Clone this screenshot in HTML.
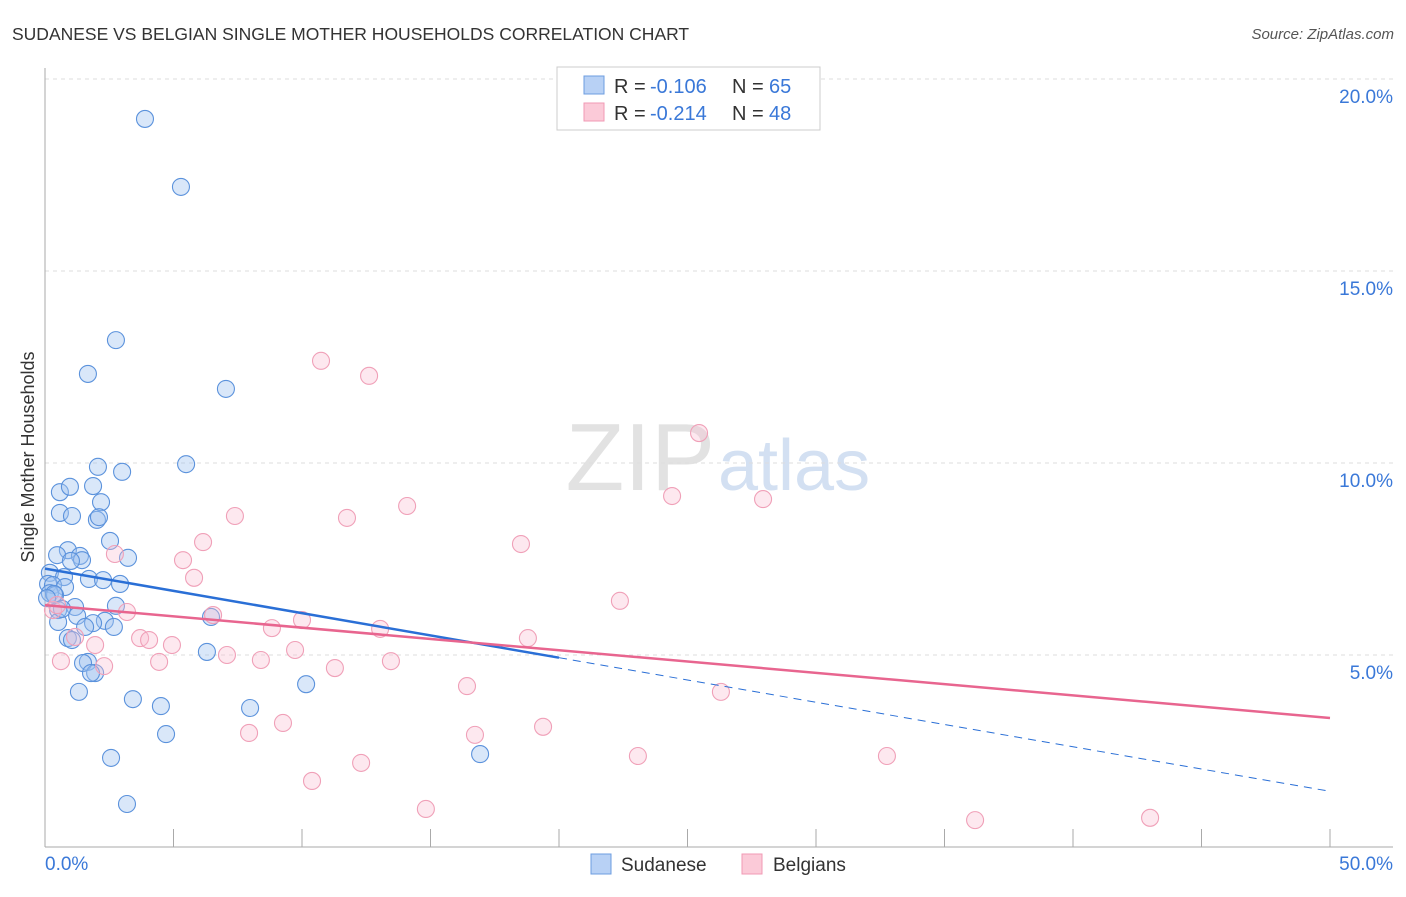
<!DOCTYPE html>
<html><head><meta charset="utf-8"><style>
body{margin:0;background:#fff;font-family:"Liberation Sans",sans-serif}
svg text{font-family:"Liberation Sans",sans-serif}
</style></head><body>
<svg id="c" width="1406" height="892">
<text x="12" y="40" font-size="17.5" fill="#333">SUDANESE VS BELGIAN SINGLE MOTHER HOUSEHOLDS CORRELATION CHART</text>
<text x="1394" y="39" font-size="15" fill="#555" font-style="italic" text-anchor="end">Source: ZipAtlas.com</text>
<text x="715" y="490" font-size="96" fill="#e2e2e2" text-anchor="end" font-family="Liberation Serif">ZIP</text>
<text x="718" y="490" font-size="72" fill="#d3e0f2">atlas</text>
<text transform="translate(34,457) rotate(-90)" font-size="18" fill="#333" text-anchor="middle">Single Mother Households</text>
<g id="grid"></g><g id="pts"></g><g id="lines"></g>
<g>
<rect x="557" y="67" width="263" height="63" fill="#fff" stroke="#ccc"/>
<rect x="584" y="76" width="20" height="18" fill="#b8d1f5" stroke="#6d9de0"/>
<rect x="584" y="103" width="20" height="18" fill="#fbcad8" stroke="#f09ab4"/>
<text x="614" y="93" font-size="20" fill="#333">R =</text>
<text x="650" y="93" font-size="20" fill="#3a78d8">-0.106</text>
<text x="732" y="93" font-size="20" fill="#333">N =</text>
<text x="769" y="93" font-size="20" fill="#3a78d8">65</text>
<text x="614" y="120" font-size="20" fill="#333">R =</text>
<text x="650" y="120" font-size="20" fill="#3a78d8">-0.214</text>
<text x="732" y="120" font-size="20" fill="#333">N =</text>
<text x="769" y="120" font-size="20" fill="#3a78d8">48</text>
</g>
<g>
<rect x="591" y="854" width="20" height="20" fill="#b8d1f5" stroke="#6d9de0"/>
<text x="621" y="871" font-size="19" fill="#333">Sudanese</text>
<rect x="742" y="854" width="20" height="20" fill="#fbcad8" stroke="#f09ab4"/>
<text x="773" y="871" font-size="19" fill="#333">Belgians</text>
</g>
</svg>
<script>
const yTicks=[5,10,15,20];
const xTickLabels=["0.0%","50.0%"];
const sudX=[3.89,5.29,2.76,1.67,7.04,5.49,2.06,3.00,0.58,0.97,1.87,2.18,0.58,1.05,2.02,2.10,2.53,0.89,0.47,1.36,1.44,1.01,3.23,0.19,0.74,1.71,2.26,2.92,0.12,0.31,0.78,0.19,0.39,2.76,1.17,0.51,6.46,1.25,0.51,2.33,1.87,1.56,2.68,0.89,1.05,6.30,1.67,1.48,1.95,1.79,10.16,1.32,3.42,4.51,7.98,4.71,2.57,16.93,3.19,0.66,0.35,0.08];
const sudY=[18.96,17.19,13.20,12.32,11.93,9.97,9.90,9.77,9.24,9.38,9.40,8.98,8.70,8.62,8.52,8.59,7.97,7.73,7.60,7.58,7.47,7.45,7.53,7.14,7.03,6.98,6.95,6.85,6.85,6.82,6.77,6.61,6.56,6.28,6.25,6.17,5.99,6.02,5.86,5.89,5.83,5.73,5.73,5.44,5.39,5.08,4.82,4.79,4.53,4.53,4.24,4.04,3.85,3.67,3.62,2.94,2.32,2.42,1.12,6.20,6.59,6.48];
const belX=[10.74,12.61,25.45,24.40,27.94,14.09,7.39,11.75,18.52,2.72,6.15,5.37,5.80,3.19,6.54,22.37,10.00,8.83,13.04,18.79,3.70,4.05,4.94,1.95,7.08,9.73,4.44,8.40,13.46,2.30,0.62,11.28,16.42,26.30,1.17,9.26,7.94,16.73,19.38,12.30,10.39,23.07,32.76,14.82,36.19,43.00,0.31,0.47];
const belY=[12.66,12.27,10.78,9.14,9.06,8.88,8.62,8.57,7.89,7.63,7.94,7.47,7.01,6.12,6.04,6.41,5.91,5.70,5.68,5.44,5.44,5.39,5.26,5.26,5.00,5.13,4.82,4.87,4.84,4.71,4.84,4.66,4.19,4.04,5.47,3.23,2.97,2.92,3.13,2.19,1.72,2.37,2.37,0.99,0.70,0.76,6.17,6.30];
const sudTrend=[7.25,-0.116];
const belTrend=[6.30,-0.0588];
const NS="http://www.w3.org/2000/svg";
const X=v=>45+v*25.7, Y=v=>847-v*38.4;
function mk(t,a,p){const e=document.createElementNS(NS,t);for(const k in a)e.setAttribute(k,a[k]);p.appendChild(e);return e;}
const grid=document.getElementById('grid');
yTicks.forEach(t=>{
 const l=mk('line',{x1:45,x2:1393,y1:Y(t),y2:Y(t),stroke:'#ddd','stroke-dasharray':'4,4'},grid);
 
 
 const tx=mk('text',{x:1393,y:Y(t)+24,'font-size':19,fill:'#3a78d8','text-anchor':'end'},grid);
 tx.textContent=t.toFixed(1)+'%';
 
 
});
const ax=mk('line',{x1:45,x2:45,y1:68,y2:847,stroke:'#aaa'},grid);


const bx=mk('line',{x1:45,x2:1393,y1:847,y2:847,stroke:'#aaa'},grid);


for(let i=1;i<=10;i++){const t=mk('line',{x1:X(i*5),x2:X(i*5),y1:829,y2:847,stroke:'#aaa'},grid);
 
 }
[[0,'start',45],[1,'end',1393]].forEach(([i,a,x])=>{const t=mk('text',{x:x,y:870,'font-size':19,fill:'#3a78d8','text-anchor':a},grid);t.textContent=xTickLabels[i];
 
 });
const pts=document.getElementById('pts');
sudX.forEach((v,i)=>{const c=mk('circle',{cx:X(v),cy:Y(sudY[i]),r:8.5,fill:'rgba(160,195,240,0.4)',stroke:'#5b92dc','stroke-width':1.1},pts);
 
 });
belX.forEach((v,i)=>{const c=mk('circle',{cx:X(v),cy:Y(belY[i]),r:8.5,fill:'rgba(250,190,210,0.35)',stroke:'#f0a0b8','stroke-width':1.1},pts);
 
 });
const L=document.getElementById('lines');
const f=(t,x)=>t[0]+t[1]*x;
const s1=mk('line',{x1:X(0),y1:Y(f(sudTrend,0)),x2:X(20),y2:Y(f(sudTrend,20)),stroke:'#2a6fd6','stroke-width':2.5},L);


const s2=mk('line',{x1:X(20),y1:Y(f(sudTrend,20)),x2:X(50),y2:Y(f(sudTrend,50)),stroke:'#2a6fd6','stroke-width':1,'stroke-dasharray':'8,6'},L);


const b1=mk('line',{x1:X(0),y1:Y(f(belTrend,0)),x2:X(50),y2:Y(f(belTrend,50)),stroke:'#e8658f','stroke-width':2.5},L);


</script>
</body></html>
